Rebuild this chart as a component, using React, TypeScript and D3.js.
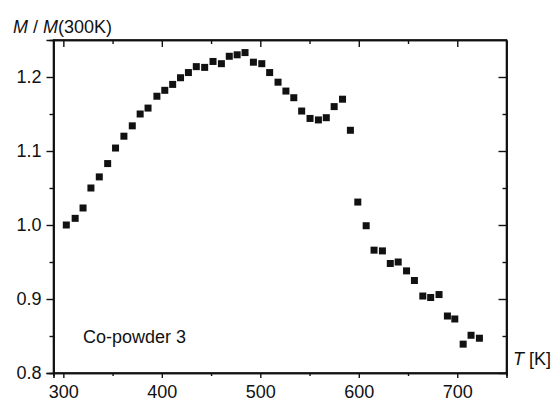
import { useEffect, useRef } from "react";
import * as d3 from "d3";

// T in K, M / M(300K)
const temps = [
  303, 312, 320, 328, 336.5, 345, 353, 361.5, 370, 378, 386, 395, 403, 411,
  419, 427, 435, 443.5, 452, 460.5, 468.5, 476.5, 484.5, 493, 501.5, 509.5,
  518, 526, 534, 542, 550.5, 559, 567, 575, 583.5, 591.5, 599, 607.5, 615.5,
  624, 632, 640, 648.5, 656.5, 665, 673, 681.5, 690, 697.5, 706, 714, 722.5,
];
const ratios = [
  1.0, 1.009, 1.023, 1.05, 1.065, 1.083, 1.104, 1.12, 1.134, 1.15, 1.158,
  1.174, 1.182, 1.19, 1.199, 1.206, 1.214, 1.213, 1.221, 1.218, 1.228, 1.23,
  1.233, 1.22, 1.218, 1.206, 1.193, 1.181, 1.172, 1.154, 1.144, 1.142, 1.145,
  1.16, 1.17, 1.128, 1.031, 0.999, 0.966, 0.965, 0.948, 0.95, 0.938, 0.925,
  0.904, 0.902, 0.906, 0.877, 0.873, 0.839, 0.851, 0.847,
];
const xMajor = [300, 400, 500, 600, 700];
const xMinor = [350, 450, 550, 650];
const yMajor = [0.8, 0.9, 1.0, 1.1, 1.2];
const yMinor = [0.85, 0.95, 1.05, 1.15];

const width = 557;
const height = 402;
const left = 53.5;
const right = 506.5;
const top = 40;
const bottom = 373;
const font = "'Liberation Sans', Arial, sans-serif";

export default function App() {
  const ref = useRef(null);
  const x = d3.scaleLinear().domain([290, 750]).range([left, right]);
  const y = d3.scaleLinear().domain([0.8, 1.25]).range([bottom, top]);

  useEffect(() => {
    const svg = d3.select(ref.current);
    svg.selectAll(".ax").remove();
    const g = svg.append("g").attr("class", "ax");

    // bottom: labelled major ticks outward, minor ticks
    g.append("g").attr("transform", `translate(0,${bottom})`)
      .call(d3.axisBottom(x).tickValues(xMajor).tickSize(5).tickPadding(7).tickFormat(d3.format("d")));
    g.append("g").attr("transform", `translate(0,${bottom})`)
      .call(d3.axisBottom(x).tickValues(xMinor).tickSize(3).tickFormat(() => ""));

    // top: ticks pointing in
    g.append("g").attr("transform", `translate(0,${top})`)
      .call(d3.axisTop(x).tickValues(xMajor).tickSizeInner(-7).tickSizeOuter(0).tickFormat(() => ""));
    g.append("g").attr("transform", `translate(0,${top})`)
      .call(d3.axisTop(x).tickValues(xMinor).tickSizeInner(-4).tickSizeOuter(0).tickFormat(() => ""));

    // left
    g.append("g").attr("transform", `translate(${left},0)`)
      .call(d3.axisLeft(y).tickValues(yMajor).tickSize(7).tickPadding(5).tickFormat(d3.format(".1f")));
    g.append("g").attr("transform", `translate(${left},0)`)
      .call(d3.axisLeft(y).tickValues(yMinor).tickSize(4).tickFormat(() => ""));

    // right: ticks pointing in
    g.append("g").attr("transform", `translate(${right},0)`)
      .call(d3.axisRight(y).tickValues(yMajor).tickSizeInner(-8).tickSizeOuter(0).tickFormat(() => ""));
    g.append("g").attr("transform", `translate(${right},0)`)
      .call(d3.axisRight(y).tickValues(yMinor).tickSizeInner(-4).tickSizeOuter(0).tickFormat(() => ""));

    g.selectAll(".domain").attr("stroke", "#111").attr("stroke-width", 1.6);
    g.selectAll(".tick line").attr("stroke", "#111").attr("stroke-width", 1.4);
    g.selectAll(".tick text").attr("font-family", font).attr("font-size", 18).attr("fill", "#111");
  });

  return (
    <svg ref={ref} width={width} height={height}
      style={{ position: "absolute", left: 0, top: 0, background: "#fff" }}>
      <rect x={left} y={top} width={right - left} height={bottom - top}
        fill="none" stroke="#111" strokeWidth={1.6} />
      {temps.map((t, i) => (
        <rect key={i} x={x(t) - 3.5} y={y(ratios[i]) - 3.5} width={7} height={7} fill="#111" />
      ))}
      <text x={13} y={33} fontFamily={font} fontSize={18} fill="#111">
        <tspan fontStyle="italic">M</tspan> / <tspan fontStyle="italic">M</tspan>(300K)
      </text>
      <text x={83} y={343} fontFamily={font} fontSize={18} fill="#111">
        Co-powder 3
      </text>
      <text x={513} y={365} fontFamily={font} fontSize={18} fill="#111">
        <tspan fontStyle="italic">T</tspan> [K]
      </text>
    </svg>
  );
}
